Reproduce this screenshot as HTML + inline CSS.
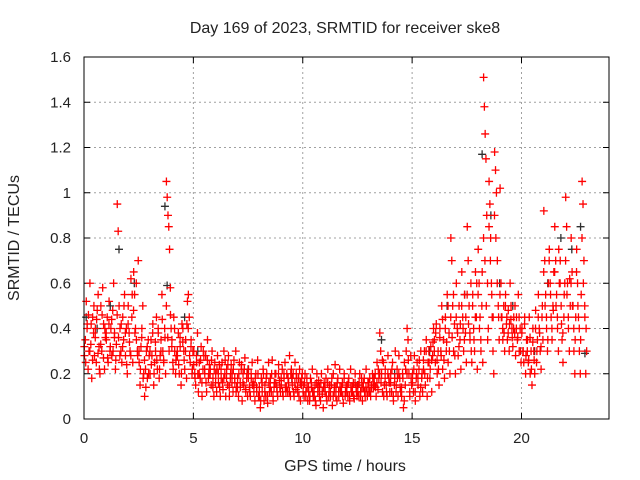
<!DOCTYPE html>
<html><head><meta charset="utf-8"><style>
body{margin:0;background:#fff;}
svg{display:block;font-family:"Liberation Sans",sans-serif;}
</style></head><body>
<svg id="chart" width="640" height="480">
<text x="345" y="33" text-anchor="middle" font-size="16" fill="#222">Day 169 of 2023, SRMTID for receiver ske8</text>
<text x="345" y="471" text-anchor="middle" font-size="16" fill="#222">GPS time / hours</text>
<text transform="translate(19,238) rotate(-90)" text-anchor="middle" font-size="16" fill="#222">SRMTID / TECUs</text>
<g id="grid"></g>
<g id="ticks"></g>
<g id="dark"></g>
<g id="red"></g>
<rect x="84" y="57" width="525" height="362" fill="none" stroke="#000" stroke-width="1"/>
</svg>
<script>
const xTicks=[0,5,10,15,20];
const yTicks=[0,0.2,0.4,0.6,0.8,1,1.2,1.4,1.6];
const yTickLabels=["0","0.2","0.4","0.6","0.8","1","1.2","1.4","1.6"];
const binWidth=0.25;
const redBins=[
[.28,.35,.52,.42,.22,.3],[.6,.33,.18,.45,.38,.28],[.4,.25,.48,.55,.32,.2],[.5,.3,.58,.42,.22,.36],
[.35,.45,.25,.52,.3,.4],[.28,.48,.6,.38,.22,.33],[.95,.83,.5,.4,.3,.25],[.45,.35,.55,.28,.4,.2],
[.5,.38,.3,.62,.45,.25],[.65,.55,.4,.35,.3,.7],[.25,.15,.32,.4,.5,.2],[.1,.22,.3,.18,.35,.28],
[.2,.35,.28,.42,.15,.25],[.3,.45,.22,.38,.18,.28],[.35,.55,.3,.25,.4,.2],[1.05,.98,.9,.85,.75,.58,.4],
[.35,.25,.45,.3,.2,.28],[.28,.38,.2,.32,.15,.42],[.4,.3,.22,.35,.18,.52],[.55,.45,.25,.35,.2,.3],
[.3,.2,.15,.25,.38,.12],[.25,.18,.32,.1,.22,.28],[.2,.28,.12,.35,.18,.24],[.22,.15,.3,.18,.1,.25],
[.2,.12,.28,.16,.24,.1],[.18,.25,.13,.3,.2,.1],[.22,.15,.28,.1,.18,.24],[.2,.12,.26,.16,.3,.14],
[.18,.1,.25,.14,.22,.08],[.2,.15,.27,.12,.18,.1],[.22,.14,.1,.18,.25,.16],[.15,.08,.2,.12,.26,.1],
[.1,.05,.18,.12,.22,.08],[.15,.1,.2,.07,.25,.12],[.18,.12,.26,.08,.14,.2],[.2,.14,.1,.24,.17,.12],
[.15,.22,.1,.18,.25,.12],[.2,.12,.16,.28,.1,.22],[.15,.2,.1,.25,.13,.18],[.12,.18,.22,.08,.15,.2],
[.15,.1,.2,.12,.18,.08],[.12,.08,.18,.14,.22,.1],[.1,.15,.06,.2,.12,.17],[.14,.08,.2,.11,.05,.16],
[.12,.18,.08,.22,.1,.15],[.1,.15,.06,.2,.12,.24],[.14,.08,.18,.1,.22,.12],[.12,.16,.07,.2,.1,.14],
[.15,.1,.18,.08,.22,.12],[.12,.16,.09,.2,.14,.1],[.15,.1,.2,.12,.18,.08],[.14,.18,.1,.22,.12,.16],
[.12,.18,.1,.15,.2,.14],[.15,.2,.1,.25,.13,.18],[.38,.3,.2,.12,.25,.15],[.22,.15,.1,.28,.18,.12],
[.2,.12,.25,.08,.15,.3],[.15,.22,.1,.28,.18,.12],[.1,.2,.05,.25,.15,.3],[.4,.35,.2,.1,.28,.15],
[.2,.12,.28,.08,.18,.25],[.15,.22,.1,.3,.18,.12],[.22,.3,.15,.35,.1,.25],[.25,.18,.32,.12,.28,.4],
[.35,.25,.42,.2,.3,.15],[.4,.3,.5,.22,.35,.18],[.45,.3,.55,.25,.38,.2],[.8,.7,.5,.3,.42,.2],
[.6,.4,.28,.5,.35,.22],[.65,.45,.3,.55,.38,.25],[.85,.7,.5,.35,.6,.25],[.55,.4,.3,.65,.45,.22],
[.75,.6,.45,.3,.5,.25],[1.51,1.38,1.26,1.15,.9,.6,.4],[1.05,.95,.8,.6,.45,.3,.2],[1.18,1.1,1.0,.7,.5,.35],
[1.02,.6,.45,.35,.5,.3],[.55,.42,.35,.48,.3,.6],[.5,.4,.32,.45,.38,.28],[.45,.35,.55,.3,.4,.25],
[.4,.3,.25,.45,.2,.35],[.35,.25,.45,.2,.3,.15],[.4,.3,.2,.48,.25,.35],[.55,.4,.3,.22,.45,.35],
[.92,.7,.55,.4,.3,.6],[.75,.6,.45,.35,.5,.65],[.85,.7,.55,.4,.3,.6],[.7,.5,.35,.25,.45,.6],
[.98,.85,.6,.4,.3,.5],[.8,.65,.5,.3,.2,.45],[.75,.6,.45,.3,.2,.55],[1.05,.95,.7,.45,.2,.3]
];
const redBins2=[
[.32,.25,.4,.46],[.3,.42,.26,.5],[.36,.44,.29,.22],[.33,.46,.27,.4],
[.38,.27,.42,.32],[.44,.3,.36,.26],[.46,.36,.28,.42],[.32,.5,.38,.24],
[.42,.34,.28,.55],[.48,.38,.6,.28],[.3,.22,.36,.18],[.26,.14,.32,.2],
[.3,.24,.38,.2],[.34,.26,.4,.22],[.3,.44,.26,.36],[.5,.36,.3,.46],
[.32,.22,.4,.26],[.3,.24,.36,.2],[.34,.26,.3,.42],[.4,.28,.32,.22],
[.24,.18,.28,.2],[.2,.26,.16,.3],[.22,.16,.26,.2],[.2,.26,.14,.22],
[.16,.22,.2,.14],[.22,.16,.18,.26],[.18,.24,.14,.2],[.16,.22,.18,.12],
[.14,.2,.16,.24],[.16,.22,.13,.2],[.18,.12,.2,.15],[.12,.18,.14,.2],
[.14,.08,.16,.2],[.12,.18,.1,.16],[.14,.2,.1,.16],[.16,.12,.2,.14],
[.18,.12,.2,.14],[.14,.18,.12,.2],[.18,.12,.16,.2],[.14,.1,.16,.18],
[.12,.16,.1,.14],[.14,.1,.16,.12],[.12,.08,.16,.14],[.1,.16,.12,.14],
[.14,.1,.16,.12],[.12,.18,.1,.14],[.1,.16,.12,.14],[.14,.1,.18,.12],
[.12,.16,.1,.14],[.14,.1,.16,.12],[.12,.16,.1,.14],[.16,.12,.14,.1],
[.16,.12,.14,.18],[.18,.14,.16,.22],[.2,.16,.26,.1],[.18,.12,.2,.16],
[.16,.22,.1,.18],[.12,.18,.2,.14],[.14,.18,.08,.22],[.2,.26,.12,.18],
[.16,.22,.12,.2],[.18,.26,.14,.2],[.26,.2,.3,.18],[.3,.22,.26,.34],
[.3,.38,.26,.22],[.36,.28,.44,.26],[.4,.34,.5,.3],[.45,.36,.55,.28],
[.45,.38,.32,.42],[.5,.4,.35,.45],[.55,.42,.38,.3],[.5,.35,.45,.6],
[.55,.4,.35,.65],[.8,.7,.5,.35],[.85,.7,.55,.45],[.9,.8,.6,.45],
[.55,.45,.4,.38],[.5,.45,.38,.42],[.44,.36,.4,.5],[.4,.36,.45,.3],
[.38,.3,.42,.28],[.3,.26,.36,.22],[.34,.26,.4,.3],[.45,.38,.32,.5],
[.65,.5,.45,.35],[.7,.55,.4,.48],[.65,.5,.45,.75],[.6,.42,.38,.55],
[.7,.55,.45,.62],[.6,.5,.4,.35],[.65,.5,.4,.35],[.8,.6,.5,.4]
];
const darkTimes=[0.1,0.6,1.2,1.6,2.3,3.7,3.8,4.6,5.2,7.5,9.5,12.5,13.6,14.2,15.8,16.6,17.4,18.2,18.6,19.0,19.6,20.6,21.2,21.8,22.3,22.7,22.9];
const darkValues=[0.45,0.4,0.5,0.75,0.6,0.94,0.59,0.45,0.3,0.22,0.18,0.15,0.35,0.2,0.3,0.5,0.55,1.17,0.9,0.6,0.5,0.3,0.6,0.8,0.75,0.85,0.29];
const X=t=>84+t*525/24, Y=v=>419-v*362/1.6;
const NS="http://www.w3.org/2000/svg";
const mk=(p,tag,a)=>{const e=document.createElementNS(NS,tag);for(const k in a)e.setAttribute(k,a[k]);p.appendChild(e);return e;};
const grid=document.getElementById('grid'),ticks=document.getElementById('ticks');
xTicks.forEach(t=>{
 const g=mk(grid,'line',{x1:X(t),x2:X(t),y1:57,y2:419,stroke:'#a0a0a0','stroke-dasharray':'2,3'});
 
 
 mk(ticks,'line',{x1:X(t),x2:X(t),y1:419,y2:413,stroke:'#000'});
 mk(ticks,'line',{x1:X(t),x2:X(t),y1:57,y2:63,stroke:'#000'});
 const l=mk(ticks,'text',{x:X(t),y:443,'text-anchor':'middle','font-size':'15',fill:'#222'});
 l.textContent=t;
 
 
});
yTicks.forEach((v,i)=>{
 const g=mk(grid,'line',{x1:84,x2:609,y1:Y(v),y2:Y(v),stroke:'#a0a0a0','stroke-dasharray':'2,3'});
 
 
 mk(ticks,'line',{x1:84,x2:90,y1:Y(v),y2:Y(v),stroke:'#000'});
 mk(ticks,'line',{x1:609,x2:603,y1:Y(v),y2:Y(v),stroke:'#000'});
 const l=mk(ticks,'text',{x:71,y:Y(v)+5,'text-anchor':'end','font-size':'15',fill:'#222'});
 l.textContent=yTickLabels[i];
 
 
});
function plus(g,t,v,c){
 const x=X(t),y=Y(v);
 const p=mk(g,'path',{d:`M${x-4},${y}H${x+4}M${x},${y-4}V${y+4}`,stroke:c,'stroke-width':'1.3',fill:'none'});
 
 
}
const dark=document.getElementById('dark'),red=document.getElementById('red');
darkTimes.forEach((t,i)=>plus(dark,t,darkValues[i],'#303030'));
redBins.forEach((vals,b)=>vals.forEach((v,j)=>plus(red,b*binWidth+(j+0.5)/vals.length*binWidth,v,'#ff0000')));
redBins2.forEach((vals,b)=>vals.forEach((v,j)=>plus(red,b*binWidth+(j+0.25)/vals.length*binWidth,v,'#ff0000')));
</script>
</body></html>
